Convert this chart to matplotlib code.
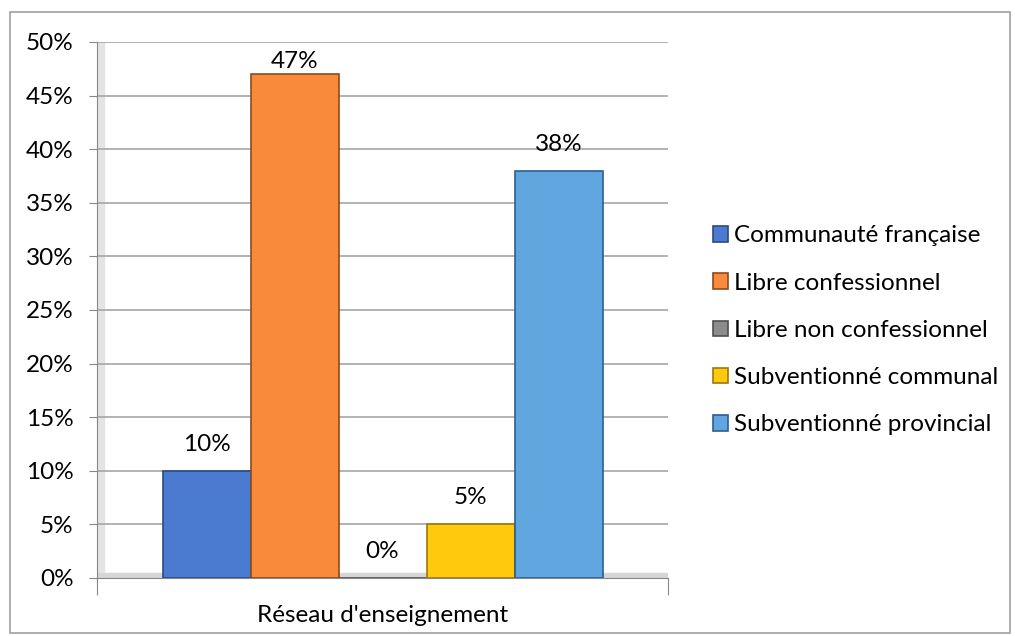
import numpy as np
import matplotlib.pyplot as plt
from matplotlib.patches import Rectangle

plt.rcParams['font.family'] = ['Lato', 'DejaVu Sans']

# ----------------------------
# Data
# ----------------------------
series = ["Communauté française", "Libre confessionnel", "Libre non confessionnel",
          "Subventionné communal", "Subventionné provincial"]
values = [10, 47, 0, 5, 38]
labels = ["10%", "47%", "0%", "5%", "38%"]
colors = ["#4A7BD0", "#F98A3A", "#8C8C8C", "#FFC90E", "#62A6E0"]
edges = ["#2B4A80", "#8A4A1C", "#505050", "#9A7A08", "#2E5F8C"]
category = "Réseau d'enseignement"
yticks = [0, 5, 10, 15, 20, 25, 30, 35, 40, 45, 50]

FS = 17.5

# ----------------------------
# Figure
# ----------------------------
fig = plt.figure(figsize=(10.15, 6.36), dpi=100)
fig.patches.append(Rectangle((10/1015, 3/636), 1000/1015, 621/636, transform=fig.transFigure,
                             fill=False, edgecolor="#A0A0A0", linewidth=1.2))

ax = fig.add_axes([97/1015, 58/636, 571/1015, 536/636])

width = 88 / 571
start = 0.5 - 2.5 * width
for i, (v, c, e, lab) in enumerate(zip(values, colors, edges, labels)):
    x = start + (i + 0.5) * width
    ax.bar(x, v, width=width, color=c, edgecolor=e, linewidth=1.2, zorder=3, label=series[i])
    ax.text(x, min(v + 1.5, 47.2), lab, ha="center", va="bottom", fontsize=FS, zorder=4)

# floor and wall shading
ax.axhspan(0, 0.45, color="#D6D6D6", zorder=2)
ax.axvspan(0, 0.012, color="#E4E4E4", zorder=1)

ax.set_xlim(0, 1)
ax.set_ylim(0, 50)
ax.set_yticks(yticks)
ax.set_yticklabels([f"{t}%" for t in yticks], fontsize=FS)
ax.yaxis.grid(True, color="#A6A6A6", linewidth=1.2, zorder=0)
ax.set_xticks([0, 1])
ax.set_xticklabels(["", ""])
ax.tick_params(axis="x", length=12, color="#888888")
ax.tick_params(axis="y", length=6, color="#888888", pad=11)
ax.set_xlabel(category, fontsize=FS, labelpad=4)
for s in ["top", "right"]:
    ax.spines[s].set_visible(False)
ax.spines["left"].set_color("#888888")
ax.spines["bottom"].set_color("#888888")

ax.legend(loc="center left", bbox_to_anchor=(1.062, 0.462), frameon=False, fontsize=FS,
          handlelength=0.6, handleheight=0.6, handletextpad=0.25, labelspacing=1.08,
          borderaxespad=0)

fig.savefig("out.png", dpi=100)
